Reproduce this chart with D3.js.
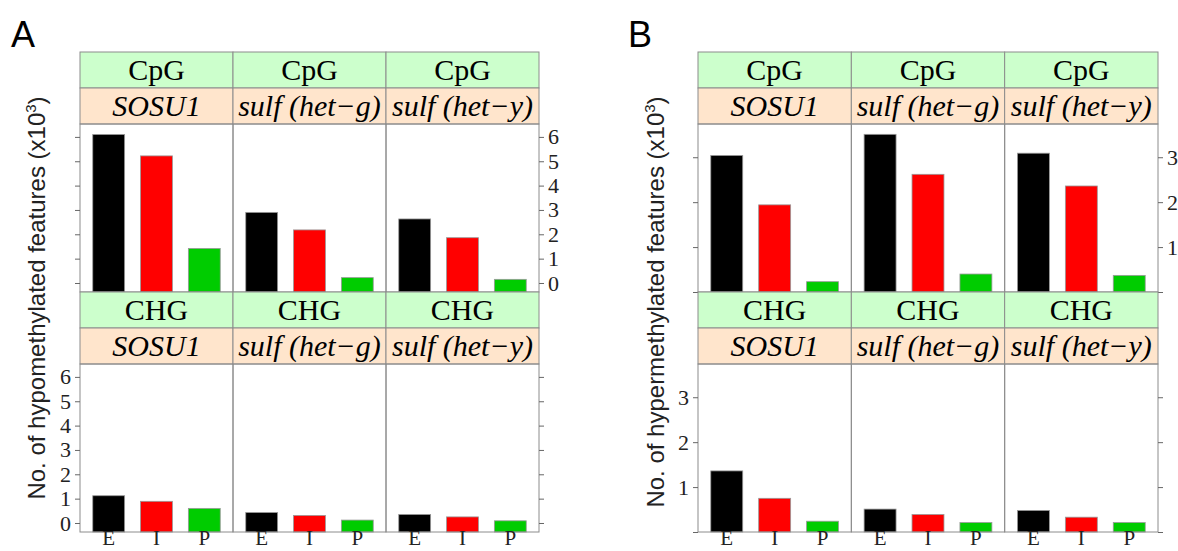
<!DOCTYPE html>
<html>
<head>
<meta charset="utf-8">
<script src="https://cdn.jsdelivr.net/npm/d3@7"></script>
<style>
  body { margin: 0; background: #fff; }
  svg { display: block; }
</style>
</head>
<body>
<svg id="chart"></svg>
<script>
// data (x10^3 features)
const contexts = ['CpG', 'CHG'];
const genotypes = ['SOSU1', 'sulf (het\u2212g)', 'sulf (het\u2212y)'];
const features = ['E', 'I', 'P'];
const barColors = ['#000000', '#ff0000', '#00cc00'];

const hypoCpG = [[6.10, 5.22, 1.42], [2.90, 2.18, 0.22], [2.63, 1.86, 0.15]];
const hypoCHG = [[1.12, 0.89, 0.60], [0.43, 0.31, 0.12], [0.35, 0.25, 0.09]];
const hyperCpG = [[3.04, 1.94, 0.23], [3.51, 2.62, 0.40], [3.09, 2.36, 0.37]];
const hyperCHG = [[1.36, 0.75, 0.24], [0.51, 0.39, 0.21], [0.48, 0.33, 0.21]];

const hypoTicks = [0, 1, 2, 3, 4, 5, 6];
const hyperTicks = [0, 1, 2, 3];

const width = 1178, height = 551;
const svg = d3.select('#chart').attr('width', width).attr('height', height);

const lineCol = '#8c8c8c';
const serif = '"Liberation Serif", "Times New Roman", serif';
const stripH = 36;
const top0 = 52;
// row layout: strips then plot area
const rows = [
  { stripTop: top0, plotTop: top0 + 2 * stripH, plotBottom: 292 },
  { stripTop: 292, plotTop: 292 + 2 * stripH, plotBottom: 532 }
];

function drawFigure(opt) {
  const g = svg.append('g');
  const colW = (opt.right - opt.left) / 3;

  // panel letter
  g.append('text')
    .attr('x', opt.letterX).attr('y', 47)
    .style('font-family', '"Liberation Sans", Arial, sans-serif')
    .style('font-size', '36px')
    .text(opt.letter);

  // y label
  const yl = g.append('text')
    .attr('transform', `translate(${opt.ylabX},${opt.ylabY}) rotate(-90)`)
    .attr('text-anchor', 'middle')
    .style('font-family', '"Liberation Sans", Arial, sans-serif')
    .style('font-size', '24px')
    .style('fill', '#222');
  yl.append('tspan').text(opt.ylab + ' (x10');
  yl.append('tspan').attr('dy', -9).style('font-size', '15px').text('3');
  yl.append('tspan').attr('dy', 9).text(')');

  rows.forEach((row, ri) => {
    const values = opt.data[ri];
    const y = d3.scaleLinear().domain(opt.domain).range([row.plotBottom, row.plotTop]);

    genotypes.forEach((gen, ci) => {
      const x0 = opt.left + ci * colW;
      const x = d3.scaleBand()
        .domain(features)
        .range([x0, x0 + colW])
        .paddingInner(1 / 3)
        .paddingOuter(0.2667);

      // strips
      g.append('rect')
        .attr('x', x0).attr('y', row.stripTop)
        .attr('width', colW).attr('height', stripH)
        .attr('fill', '#ccffcc').attr('stroke', lineCol);
      g.append('rect')
        .attr('x', x0).attr('y', row.stripTop + stripH)
        .attr('width', colW).attr('height', stripH)
        .attr('fill', '#ffe5cc').attr('stroke', lineCol);
      g.append('text')
        .attr('x', x0 + colW / 2).attr('y', row.stripTop + stripH / 2 + 10)
        .attr('text-anchor', 'middle')
        .style('font-family', serif)
        .style('font-size', '30px')
        .text(contexts[ri]);
      g.append('text')
        .attr('x', x0 + colW / 2).attr('y', row.stripTop + stripH * 1.5 + 10)
        .attr('text-anchor', 'middle')
        .style('font-family', serif)
        .style('font-style', 'italic')
        .style('font-size', '30px')
        .text(gen);

      // bars
      g.append('g')
        .selectAll('rect')
        .data(values[ci])
        .enter()
        .append('rect')
        .attr('x', (d, i) => x(features[i]))
        .attr('y', d => y(d))
        .attr('width', x.bandwidth())
        .attr('height', d => row.plotBottom - y(d))
        .attr('fill', (d, i) => barColors[i])
        .attr('stroke', '#999')
        .attr('stroke-width', 0.8);

      // panel box
      g.append('rect')
        .attr('x', x0).attr('y', row.plotTop)
        .attr('width', colW).attr('height', row.plotBottom - row.plotTop)
        .attr('fill', 'none').attr('stroke', lineCol);

      // x labels under bottom row
      if (ri === 1) {
        g.append('g')
          .selectAll('text')
          .data(features)
          .enter()
          .append('text')
          .attr('x', d => x(d) + x.bandwidth() / 2)
          .attr('y', opt.xlabY)
          .attr('text-anchor', 'middle')
          .style('font-family', serif)
          .style('font-size', '21px')
          .style('fill', '#222')
          .text(d => d);
      }
    });

    // axes: top row labels on right, bottom row labels on left
    const fmt = d => (opt.skipZero && d === 0) ? '' : d;
    const leftAxis = d3.axisLeft(y).tickValues(opt.ticks).tickSize(5).tickPadding(4)
      .tickFormat(ri === 1 ? fmt : () => '');
    const rightAxis = d3.axisRight(y).tickValues(opt.ticks).tickSize(5).tickPadding(4)
      .tickFormat(ri === 0 ? fmt : () => '');

    [g.append('g').attr('transform', `translate(${opt.left},0)`).call(leftAxis),
     g.append('g').attr('transform', `translate(${opt.right},0)`).call(rightAxis)]
      .forEach(a => {
        a.select('.domain').remove();
        a.selectAll('line').attr('stroke', '#666');
        a.selectAll('text')
          .style('font-family', serif)
          .style('font-size', '22px')
          .style('fill', '#222');
      });
  });
}

drawFigure({
  letter: 'A', letterX: 11,
  left: 80, right: 539,
  ylab: 'No. of hypomethylated features', ylabX: 45, ylabY: 298,
  data: [hypoCpG, hypoCHG],
  domain: [-0.37, 6.53],
  ticks: hypoTicks,
  skipZero: false,
  xlabY: 545
});

drawFigure({
  letter: 'B', letterX: 628,
  left: 698, right: 1158,
  ylab: 'No. of hypermethylated features', ylabX: 664, ylabY: 302,
  data: [hyperCpG, hyperCHG],
  domain: [0, 3.74],
  ticks: hyperTicks,
  skipZero: true,
  xlabY: 545
});
</script>
</body>
</html>
